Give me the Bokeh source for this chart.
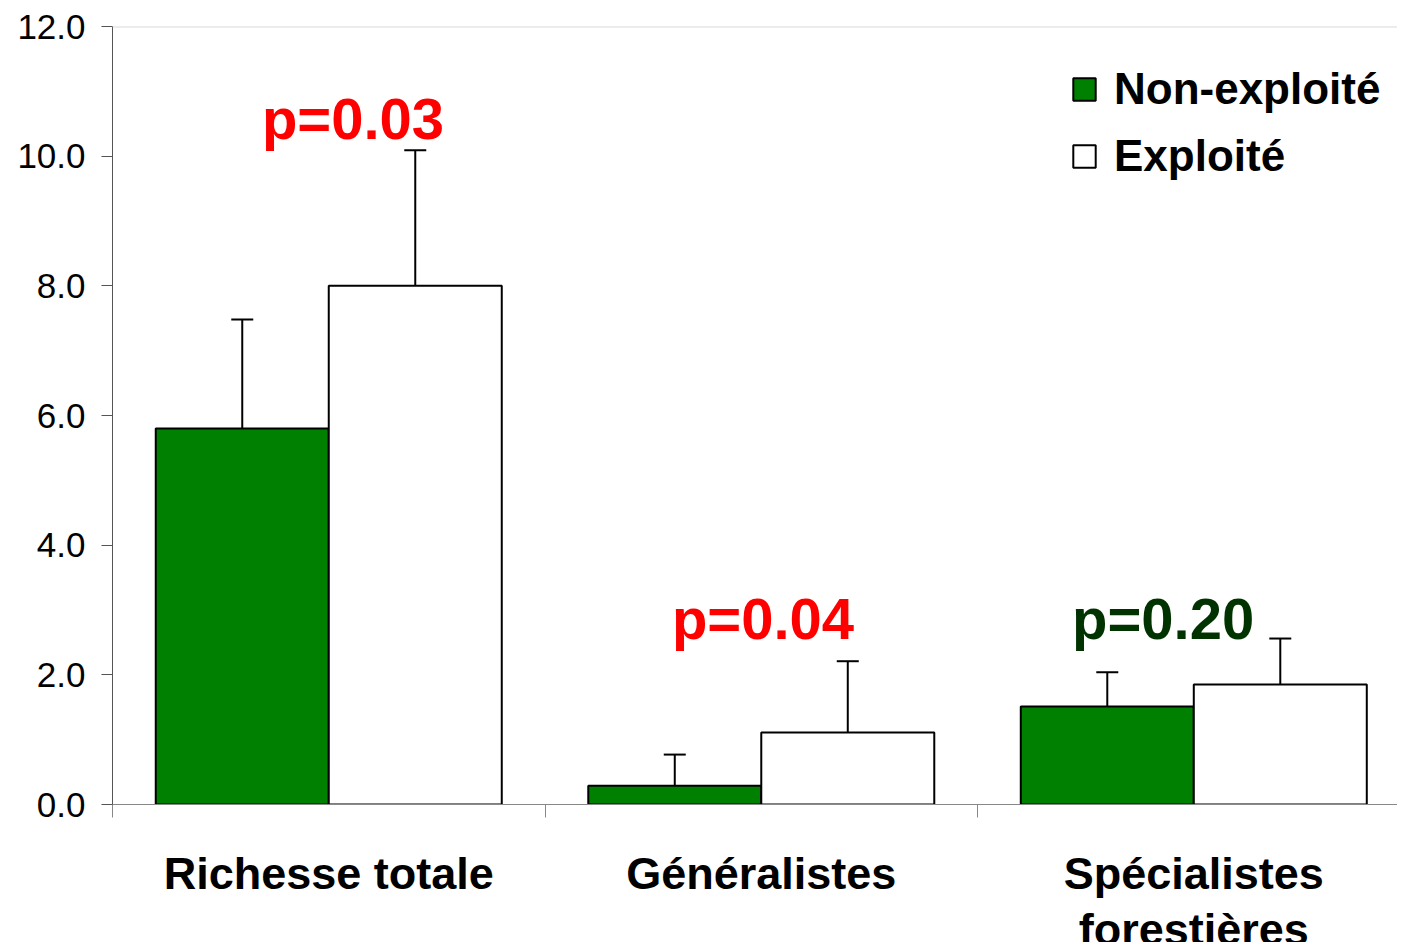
from bokeh.plotting import figure
from bokeh.layouts import column
from bokeh.models import (ColumnDataSource, FixedTicker, NumeralTickFormatter, Whisker,
                          TeeHead, Legend, LegendItem, Span)
from bokeh.transform import dodge
from bokeh.embed import file_html
from bokeh.resources import INLINE
from bokeh.core.properties import value

# ---------------- data ----------------
categories = ["Richesse totale", "Généralistes", "Spécialistes\nforestières"]
non_exploite = [5.80, 0.29, 1.51]
non_exploite_err = [1.68, 0.48, 0.53]
exploite = [8.00, 1.11, 1.85]
exploite_err = [2.09, 1.10, 0.71]
series_names = ["Non-exploité", "Exploité"]
p_labels = ["p=0.03", "p=0.04", "p=0.20"]
p_colors = ["#FF0000", "#FF0000", "#003300"]
y_ticks = [0, 2, 4, 6, 8, 10, 12]

# ---------------- layout constants ----------------
FONT = "Liberation Sans"
p_label_dx = [0.556, 0.504, 0.429]     # label x offsets within category
p_label_y = [10.58, 2.87, 2.87]        # label anchor heights
W, H_MAIN, H_LAB = 1397, 824, 118
cat_label_top = 95                     # in label-strip pixels from its bottom

idx = list(range(len(categories)))
centers = [i + 0.5 for i in idx]
x_rng = (0, 2.971)

src = ColumnDataSource(dict(x=centers, ne=non_exploite, ex=exploite))
src_ne_err = ColumnDataSource(dict(x=[c - 0.2 for c in centers], lo=non_exploite,
                                   hi=[v + e for v, e in zip(non_exploite, non_exploite_err)]))
src_ex_err = ColumnDataSource(dict(x=[c + 0.2 for c in centers], lo=exploite,
                                   hi=[v + e for v, e in zip(exploite, exploite_err)]))
src_p = ColumnDataSource(dict(x=[i + d for i, d in zip(idx, p_label_dx)], y=p_label_y,
                              text=p_labels, color=p_colors))
src_cat = ColumnDataSource(dict(x=centers, y=[cat_label_top] * len(centers), text=categories))

p = figure(width=W, height=H_MAIN, output_backend="svg", toolbar_location=None,
           x_range=x_rng, y_range=(0, 12),
           min_border_left=112, min_border_top=26, min_border_right=0, min_border_bottom=20)
p.outline_line_color = None
p.grid.visible = False
p.background_fill_color = "white"

r_ne = p.vbar(x=dodge("x", -0.2), top="ne", bottom=0, width=0.4, source=src,
              fill_color="#008000", line_color="black", line_width=2)
r_ex = p.vbar(x=dodge("x", 0.2), top="ex", bottom=0, width=0.4, source=src,
              fill_color="white", line_color="black", line_width=2)

for s in (src_ne_err, src_ex_err):
    w = Whisker(base="x", lower="lo", upper="hi", source=s, line_color="black", line_width=2,
                lower_head=None,
                upper_head=TeeHead(size=22, line_color="black", line_width=2))
    p.add_layout(w)

p.add_layout(Span(location=12, dimension="width", line_color="#d9d9d9", line_width=2))

p.text(x="x", y="y", text="text", text_color="color", source=src_p,
       text_font=value(FONT), text_font_style="bold", text_font_size="58px",
       text_align="center", text_baseline="alphabetic")

# y axis
ya = p.yaxis[0]
ya.ticker = FixedTicker(ticks=y_ticks)
ya.formatter = NumeralTickFormatter(format="0.0")
ya.major_label_text_font = FONT
ya.major_label_text_font_size = "35px"
ya.major_label_text_color = "black"
ya.major_tick_out = 11
ya.major_tick_in = 0
ya.minor_tick_out = 0
ya.minor_tick_in = 0
ya.axis_line_color = "#555555"
ya.major_tick_line_color = "#555555"
ya.major_label_standoff = 16

# x axis: boundary ticks only (as minor ticks, no labels)
xa = p.xaxis[0]
xa.ticker = FixedTicker(ticks=[], minor_ticks=[0, 1, 2, 3])
xa.major_tick_out = 0
xa.major_tick_in = 0
xa.minor_tick_out = 13
xa.minor_tick_in = 0
xa.axis_line_color = "#888888"
xa.minor_tick_line_color = "#888888"
xa.major_label_standoff = 0

legend = Legend(items=[LegendItem(label=series_names[0], renderers=[r_ne]),
                       LegendItem(label=series_names[1], renderers=[r_ex])],
                location=(958, 623), padding=0, margin=0, spacing=17,
                glyph_width=28, glyph_height=28, label_standoff=16,
                label_text_font=FONT, label_text_font_style="bold",
                label_text_font_size="44px", label_text_color="black",
                border_line_color=None, background_fill_alpha=0)
p.add_layout(legend)

# category label strip under the plot (shares the x scale)
p2 = figure(width=W, height=H_LAB, output_backend="svg", toolbar_location=None,
            x_range=p.x_range, y_range=(0, H_LAB),
            min_border_left=112, min_border_top=0, min_border_right=0, min_border_bottom=0)
p2.axis.visible = False
p2.grid.visible = False
p2.outline_line_color = None
p2.text(x="x", y="y", text="text", source=src_cat,
        text_font=value(FONT), text_font_style="bold", text_font_size="45px",
        text_color="black", text_align="center", text_baseline="top",
        text_line_height=1.1)

layout = column(p, p2, spacing=0)
open("out.html", "w").write(file_html(layout, INLINE))
